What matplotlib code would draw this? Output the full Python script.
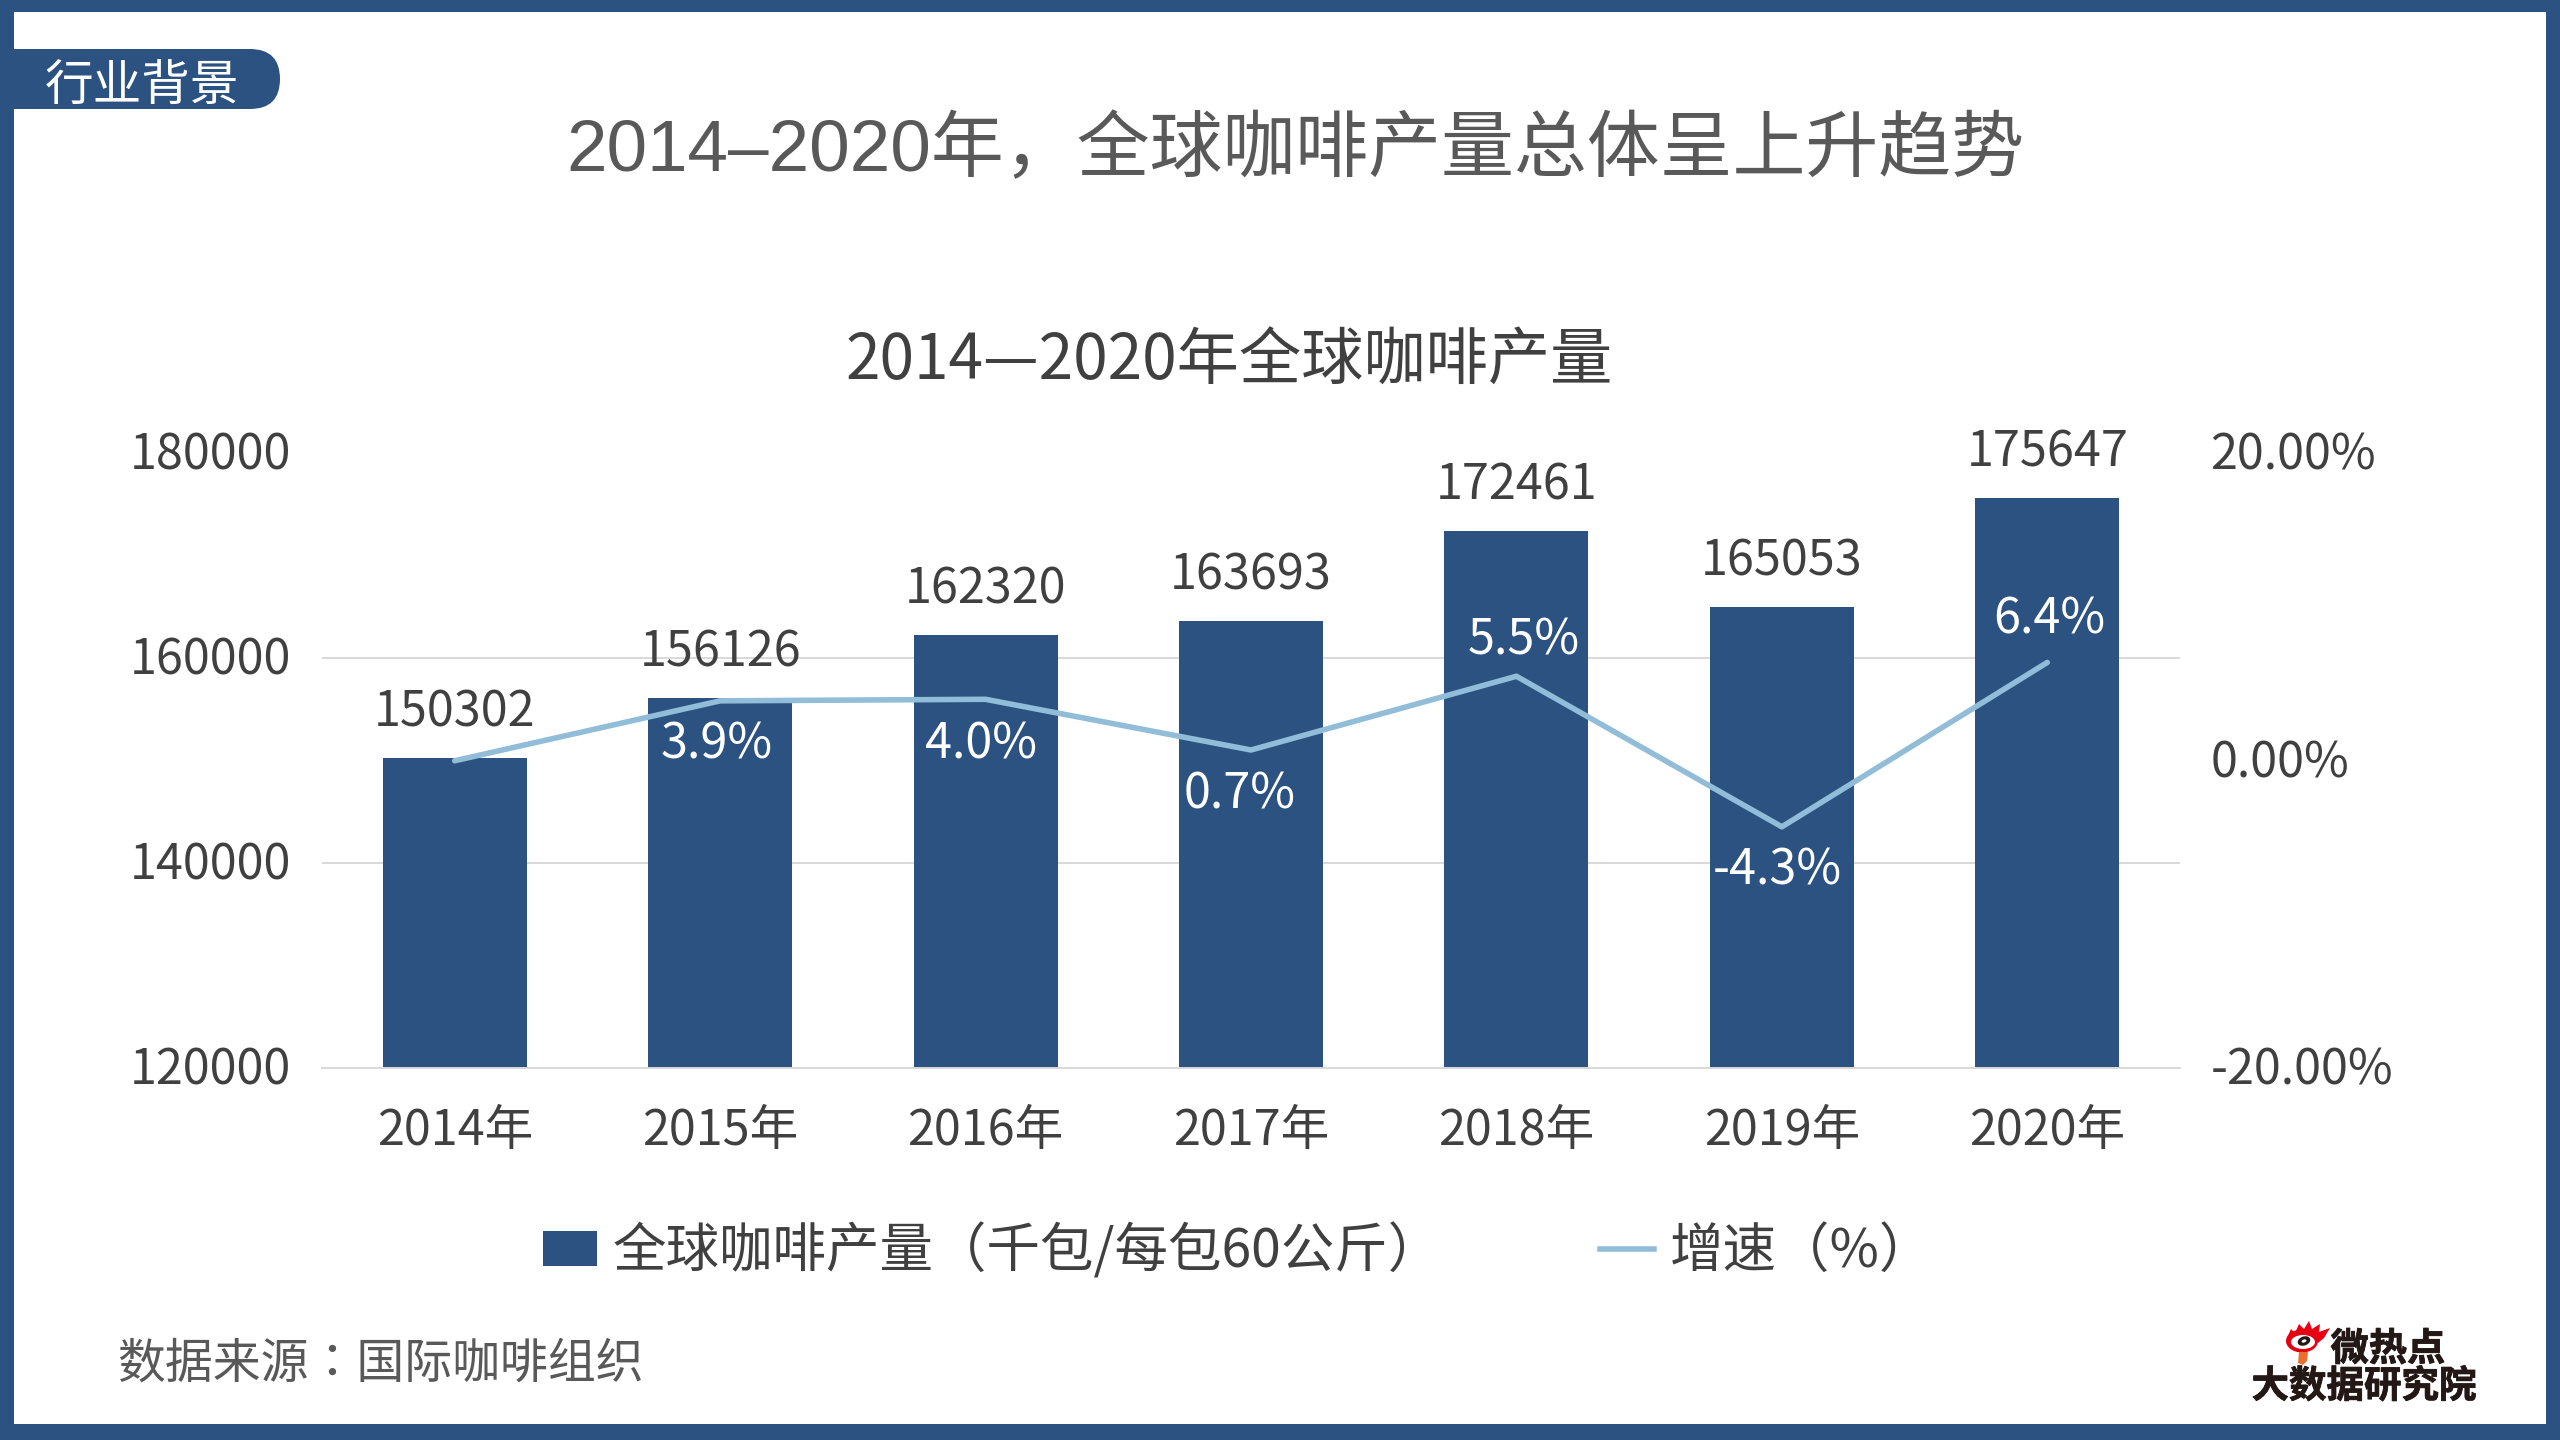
import matplotlib
matplotlib.use("Agg")
import matplotlib.pyplot as plt
import matplotlib.patheffects as pe
from matplotlib.patches import Rectangle, FancyBboxPatch, Ellipse, Polygon, Patch
from matplotlib.lines import Line2D
from matplotlib.ticker import FuncFormatter
from matplotlib.transforms import ScaledTranslation

plt.rcParams['font.family'] = ['Noto Sans CJK SC', 'DejaVu Sans']

years = ['2014年', '2015年', '2016年', '2017年', '2018年', '2019年', '2020年']
production = [150302, 156126, 162320, 163693, 172461, 165053, 175647]
growth = [0.0, 3.9, 4.0, 0.7, 5.5, -4.3, 6.4]
growth_labels = ['', '3.9%', '4.0%', '0.7%', '5.5%', '-4.3%', '6.4%']
label_shift = [(0, 0), (-3, -41), (-5, -42), (-11, -42), (7, 39), (-5, -41), (2, 46)]

NAVY = '#2C5282'
LIGHT = '#92BDD9'
DARK = '#404040'
GREY = '#595959'
INK = '#231815'

fig = plt.figure(figsize=(25.6, 14.4), dpi=100, facecolor='white')

# page furniture in pixel coordinates
bg = fig.add_axes([0, 0, 1, 1], zorder=0)
bg.set_xlim(0, 2560)
bg.set_ylim(1440, 0)
bg.axis('off')
for xy, w, h in [((0, 0), 2560, 12), ((0, 1424), 2560, 16), ((0, 0), 14, 1440), ((2546, 0), 14, 1440)]:
    bg.add_patch(Rectangle(xy, w, h, color=NAVY, lw=0))
bg.add_patch(FancyBboxPatch((14, 49), 266, 60, boxstyle='round,pad=0,rounding_size=30',
                            fc=NAVY, ec='none', mutation_aspect=1))
bg.add_patch(Rectangle((14, 49), 60, 60, color=NAVY, lw=0))
bg.text(142, 86, '行业背景', color='white', fontsize=35, ha='center', va='center')
bg.text(1295, 151, '2014–2020年，全球咖啡产量总体呈上升趋势', color=GREY, fontsize=52.5, ha='center', va='center',
        family=['Liberation Sans', 'Noto Sans CJK SC'])
bg.text(1229, 362, '2014—2020年全球咖啡产量', color=DARK, fontsize=44.8, ha='center', va='center')
bg.text(117, 1364, '数据来源：国际咖啡组织', color=GREY, fontsize=34.5, ha='left', va='center',
        family=['Noto Sans CJK TC', 'DejaVu Sans'])

# logo
bg.add_patch(Polygon([(2287, 1338), (2291, 1329), (2295, 1333), (2299, 1324), (2304, 1329),
                      (2309, 1321), (2312, 1329), (2320, 1324), (2319, 1332), (2330, 1328),
                      (2324, 1338), (2318, 1343), (2305, 1336), (2292, 1340)], fc='#E60012', ec='none'))
bg.add_patch(Ellipse((2302, 1341), 32, 23, fc='#E60012', ec='none'))
bg.add_patch(Ellipse((2303, 1342), 24, 14, fc='white', ec='none'))
bg.add_patch(Ellipse((2304, 1341), 13, 9, angle=-20, fc=INK, ec='none'))
bg.add_patch(Ellipse((2304, 1341), 5, 3, angle=-20, fc='white', ec='none'))
bg.add_patch(Polygon([(2299, 1352), (2308, 1352), (2307, 1361), (2303, 1365), (2298, 1363)],
                     fc='#ED6D31', ec='none'))
heavy = [pe.withStroke(linewidth=0.6, foreground=INK)]
bg.text(2388, 1349, '微热点', color=INK, fontsize=27.5, fontweight='bold', ha='center', va='center',
        path_effects=heavy)
bg.text(2364, 1386, '大数据研究院', color=INK, fontsize=27, fontweight='bold', ha='center', va='center',
        path_effects=heavy)

# chart
ax = fig.add_axes([322 / 2560, (1440 - 1068) / 1440, 1858 / 2560, 614.5 / 1440], zorder=2)
ax.patch.set_alpha(0)
x = list(range(len(years)))
bars = ax.bar(x, production, width=0.543, color=NAVY, zorder=2)
ax.set_xlim(-0.5, 6.5)
ax.set_ylim(120000, 180000)
ax.set_yticks([120000, 140000, 160000, 180000])
ax.set_xticks(x, years)
ax.grid(axis='y', color='#D9D9D9', lw=1.4, zorder=0)
ax.set_axisbelow(True)
for s in ('top', 'left', 'right'):
    ax.spines[s].set_visible(False)
ax.spines['bottom'].set_color('#D9D9D9')
ax.spines['bottom'].set_linewidth(1.4)
ax.tick_params(axis='both', length=0, labelsize=35, labelcolor=DARK)
ax.tick_params(axis='y', pad=22)
ax.tick_params(axis='x', pad=28)
lift = ScaledTranslation(0, 3 / 100, fig.dpi_scale_trans)
for t in ax.get_yticklabels():
    t.set_transform(t.get_transform() + lift)
for xi, v in zip(x, production):
    ax.annotate(str(v), (xi, v), xytext=(0, 45), textcoords='offset pixels',
                ha='center', va='center', fontsize=35, color=DARK, zorder=5)

ax2 = ax.twinx()
ax2.set_zorder(3)
ax2.patch.set_alpha(0)
ax2.plot(x, growth, color=LIGHT, lw=4, solid_capstyle='round', zorder=4)
ax2.set_ylim(-20, 20)
ax2.set_yticks([-20, 0, 20])
ax2.yaxis.set_major_formatter(FuncFormatter(lambda v, _: f'{v:.2f}%'))
ax2.tick_params(axis='y', length=0, labelsize=35, labelcolor=DARK, pad=22)
for t in ax2.get_yticklabels():
    t.set_transform(t.get_transform() + lift)
for s in ax2.spines.values():
    s.set_visible(False)
for xi, v, lab, off in zip(x, growth, growth_labels, label_shift):
    if lab:
        ax2.annotate(lab, (xi, v), xytext=(off[0], off[1] - 3), textcoords='offset pixels',
                     ha='center', va='center', fontsize=35, color='white', zorder=6)

handles = [Patch(fc=NAVY, ec='none', label='全球咖啡产量（千包/每包60公斤）'),
           Line2D([0], [0], color=LIGHT, lw=4, label='增速（%）')]
fig.legend(handles=handles, loc='center', bbox_to_anchor=(1238 / 2560, 1 - 1251 / 1440), ncol=2,
           frameon=False, fontsize=38.5, labelcolor=DARK, handlelength=1.01, handleheight=0.62,
           handletextpad=0.3, columnspacing=2.95, borderpad=0)

fig.savefig('out.png', dpi=100)
